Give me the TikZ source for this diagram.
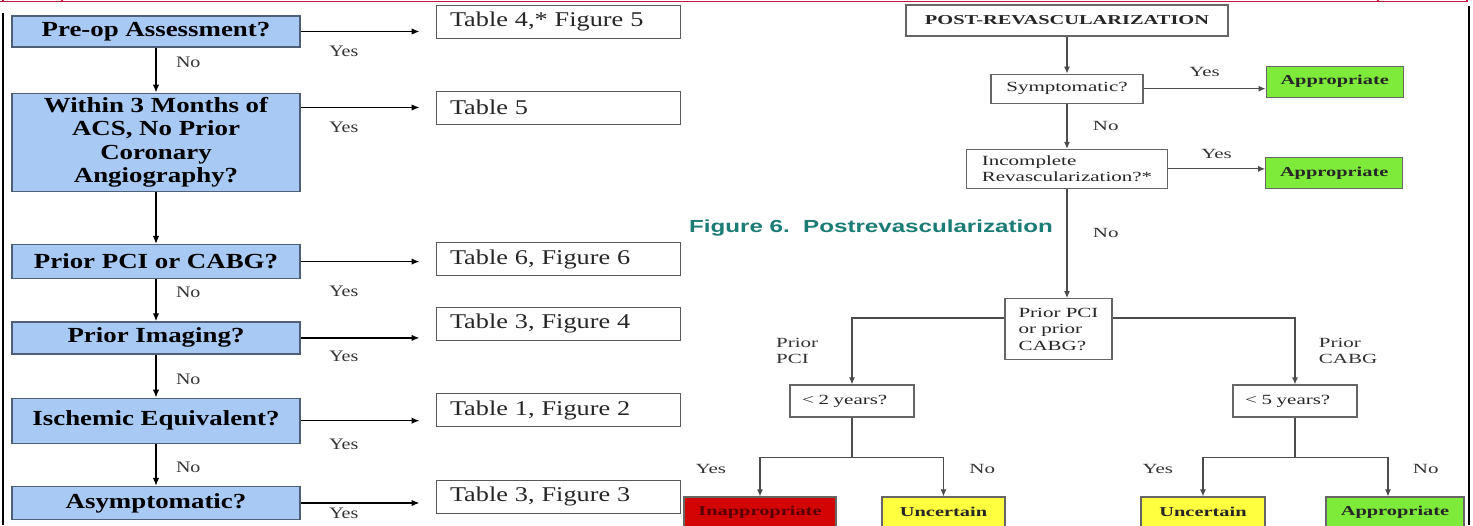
\documentclass[tikz,border=0pt]{standalone}
\usepackage{fontspec}
\setmainfont{Liberation Serif}[FakeStretch=1.25]
\newfontfamily\wideserif{Liberation Serif}[FakeStretch=1.5]
\newfontfamily\capsans{Liberation Sans}[FakeStretch=1.38]
\usepackage{xcolor}
\usepackage{tikz}
\usetikzlibrary{arrows.meta, positioning}

\definecolor{qblue}{RGB}{168,201,244}
\definecolor{qedge}{RGB}{78,96,120}
\definecolor{okgreen}{RGB}{126,234,58}
\definecolor{unsure}{RGB}{255,255,64}
\definecolor{badred}{RGB}{210,4,4}
\definecolor{capteal}{RGB}{26,124,116}
\definecolor{rimred}{RGB}{196,22,60}

\begin{document}
\begin{tikzpicture}[x=1pt, y=-1pt, node distance=40pt,
    qbox/.style={rectangle, draw=qedge, line width=1.3pt, fill=qblue, minimum width=288pt, align=center, font=\bfseries\fontsize{21.5}{23.5}\selectfont},
    tbox/.style={rectangle, draw=black!65, line width=1pt, fill=white, minimum height=33pt, text width=216pt, inner xsep=14pt, align=left, text=black!85, font=\fontsize{21}{24}\selectfont},
    rbox/.style={rectangle, draw=black!60, line width=1.2pt, fill=white, inner xsep=10pt, text=black!85, font=\wideserif\fontsize{14}{16.5}\selectfont},
    endbox/.style={rbox, minimum height=30pt, font=\wideserif\bfseries\fontsize{13.6}{16}\selectfont},
    lbl/.style={font=\fontsize{16}{18}\selectfont, text=black!80},
    rlbl/.style={font=\wideserif\fontsize{14}{16}\selectfont, text=black!80},
    noarr/.style={-{Latex[length=8pt, width=6.5pt]}, line width=1.4pt},
    yesarr/.style={-{Latex[length=8pt, width=6.5pt]}, line width=1.4pt, shorten >=16pt},
    rarr/.style={-{Latex[length=7pt, width=6pt]}, line width=1.1pt, draw=black!70},
    rline/.style={line width=1.1pt, draw=black!70}]
    \path[use as bounding box, fill=white] (0,0) rectangle (1473,525);

    \node [qbox, minimum height=31pt] (preop) at (156,31.5) {Pre-op Assessment?};
    \node [qbox, minimum height=98pt, below=45pt of preop] (within) {Within 3 Months of\\ACS, No Prior\\Coronary\\Angiography?};
    \node [qbox, minimum height=34pt, below=52pt of within] (pci) {Prior PCI or CABG?};
    \node [qbox, minimum height=32pt, below=42pt of pci] (imaging) {Prior Imaging?};
    \node [qbox, minimum height=45pt, below=43pt of imaging] (ischemic) {Ischemic Equivalent?};
    \node [qbox, minimum height=33pt, below=42pt of ischemic] (asym) {Asymptomatic?};

    \node [tbox] (t4) at (558,21.5) {Table 4,* Figure 5};
    \node [tbox] (t5) at (558,107.5) {Table 5};
    \node [tbox] (t6) at (558,259) {Table 6, Figure 6};
    \node [tbox] (t3b) at (558,323.5) {Table 3, Figure 4};
    \node [tbox] (t1) at (558,410) {Table 1, Figure 2};
    \node [tbox] (t3a) at (558,496.5) {Table 3, Figure 3};

    \draw [noarr] (preop) -- node[lbl, pos=.33, right=16pt]{No} (within);
    \draw [noarr] (within) -- (pci);
    \draw [noarr] (pci) -- node[lbl, pos=.31, right=16pt]{No} (imaging);
    \draw [noarr] (imaging) -- node[lbl, pos=.58, right=16pt]{No} (ischemic);
    \draw [noarr] (ischemic) -- node[lbl, pos=.55, right=16pt]{No} (asym);

    \draw [yesarr] (preop) -- node[lbl, pos=.32, below=10pt]{Yes} (preop -| t4.west);
    \draw [yesarr] (within.east |- t5) -- node[lbl, pos=.32, below=10pt]{Yes} (t5.west);
    \draw [yesarr] (pci) -- node[lbl, pos=.32, below=20pt]{Yes} (pci -| t6.west);
    \draw [yesarr] (imaging) -- node[lbl, pos=.32, below=9.5pt]{Yes} (imaging -| t3b.west);
    \draw [yesarr] (ischemic) -- node[lbl, pos=.32, below=14pt]{Yes} (ischemic -| t1.west);
    \draw [yesarr] (asym) -- node[lbl, pos=.32, below=1pt]{Yes} (asym -| t3a.west);

    \node [text=capteal, font=\capsans\bfseries\fontsize{17.5}{20}\selectfont] (caption) at (871,228) {Figure 6.\ \ Postrevascularization};

    \node [rbox, minimum width=322pt, minimum height=31pt, font=\wideserif\bfseries\fontsize{13.6}{16}\selectfont] (post) at (1067,20.5) {POST-REVASCULARIZATION};
    \node [rbox, minimum width=152pt, minimum height=29pt, below=37pt of post] (symp) {Symptomatic?};
    \node [endbox, fill=okgreen, minimum width=137pt, minimum height=31pt, right=122pt of symp, yshift=7pt] (appr1) {Appropriate};
    \node [rbox, align=left, minimum width=201pt, minimum height=39pt, below=45pt of symp] (incomp) {Incomplete\\Revascularization?*};
    \node [endbox, fill=okgreen, minimum width=137pt, minimum height=31pt, right=97pt of incomp, yshift=-4pt] (appr2) {Appropriate};
    \node [rbox, align=left, minimum width=107pt, minimum height=61pt, below=109pt of incomp, xshift=-8.5pt] (prior) {Prior PCI\\or prior\\CABG?};
    \node [rbox, text width=100pt, inner xsep=12pt, minimum height=32pt] (lt2) at (852,401) {< 2 years?};
    \node [rbox, text width=100pt, inner xsep=12pt, minimum height=32pt] (lt5) at (1295,401) {< 5 years?};
    \node [endbox, fill=badred, text=red!35!black, minimum width=152pt] (inap) at (760,512) {Inappropriate};
    \node [endbox, fill=unsure, minimum width=123pt] (unc1) at (943.5,512) {Uncertain};
    \node [endbox, fill=unsure, minimum width=124pt] (unc2) at (1203,512) {Uncertain};
    \node [endbox, fill=okgreen, minimum width=138pt] (appr3) at (1395,512) {Appropriate};

    \draw [rarr] (post) -- (symp);
    \draw [rarr] (symp) -- node[rlbl, above=8pt]{Yes} (symp -| appr1.west);
    \draw [rarr] (symp) -- node[rlbl, right=22pt]{No} (incomp);
    \draw [rarr] (incomp) -- node[rlbl, above=6pt]{Yes} (incomp -| appr2.west);
    \draw [rarr] (incomp.south) -- node[rlbl, pos=.4, right=22pt]{No} (incomp.south |- prior.north);
    \draw [rarr] ([yshift=-20pt]prior.north west) -| node[rlbl, pos=.75, left=30pt, align=left]{Prior\\PCI} (lt2);
    \draw [rarr] ([yshift=-20pt]prior.north east) -| node[rlbl, pos=.75, right=20pt, align=left]{Prior\\CABG} (lt5);
    \draw [rline] (lt2.south) -- ++(0,40) coordinate (fork2);
    \draw [rline] (lt5.south) -- ++(0,40) coordinate (fork5);
    \draw [rarr] (fork2) -| node[rlbl, pos=.65, left=30pt]{Yes} (inap);
    \draw [rarr] (fork2) -| node[rlbl, pos=.65, right=22pt]{No} (unc1);
    \draw [rarr] (fork5) -| node[rlbl, pos=.65, left=26pt]{Yes} (unc2);
    \draw [rarr] (fork5) -| node[rlbl, pos=.65, right=21pt]{No} ([xshift=-7pt]appr3.north);

    \draw [rimred, line width=1.4pt] (0,1.5) -- (1468,1.5);
    \foreach \tx in {3,62,1378,1467}
        \draw [rimred, line width=1.2pt] (\tx,0) -- (\tx,2);
    \draw [line width=2pt] (2.5,13) -- (2.5,525);
    \draw [line width=2pt] (1468.5,6) -- (1468.5,525);
\end{tikzpicture}
\end{document}
